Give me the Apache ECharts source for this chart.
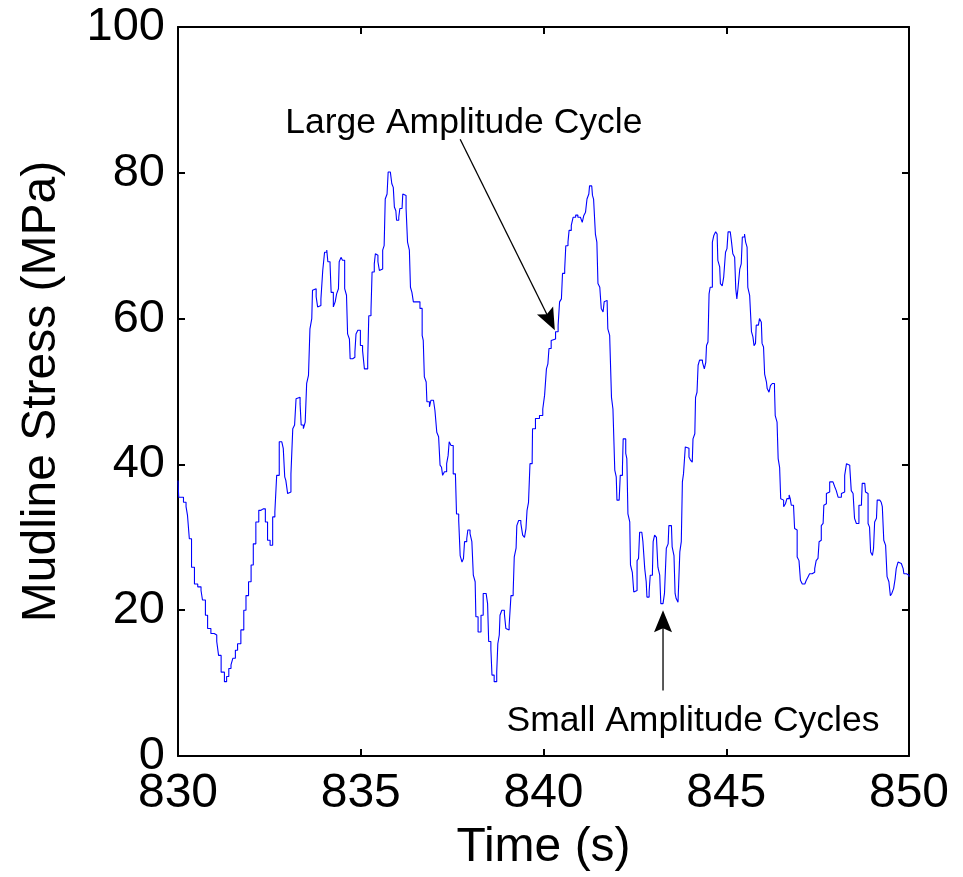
<!DOCTYPE html>
<html>
<head>
<meta charset="utf-8">
<title>Mudline stress</title>
<script src="https://cdn.jsdelivr.net/npm/echarts@6/dist/echarts.min.js"></script>
<style>
  html, body { margin: 0; padding: 0; background: #fff; }
  #chart { width: 963px; height: 877px; }
</style>
</head>
<body>
<div id="chart"></div>
<script>
// time (s) and mudline stress (MPa)
const timeS = [
  830.00, 830.02, 830.15, 830.22, 830.26, 830.31, 830.37, 830.45, 830.54, 830.63,
  830.67, 830.75, 830.81, 830.90, 830.99, 831.06, 831.11, 831.18, 831.27, 831.33,
  831.39, 831.45, 831.50, 831.57, 831.63, 831.72, 831.80, 831.86, 831.93, 832.00,
  832.06, 832.13, 832.21, 832.27, 832.33, 832.39, 832.45, 832.52, 832.59, 832.65,
  832.70, 832.77, 832.84, 832.88, 832.92, 832.95, 833.00, 833.05, 833.09, 833.14,
  833.19, 833.23, 833.28, 833.34, 833.37, 833.43, 833.48, 833.52, 833.57, 833.61,
  833.66, 833.68, 833.73, 833.78, 833.82, 833.87, 833.91, 833.96, 834.01, 834.07,
  834.10, 834.16, 834.19, 834.25, 834.30, 834.34, 834.39, 834.41, 834.46, 834.50,
  834.56, 834.61, 834.64, 834.69, 834.71, 834.78, 834.84, 834.87, 834.92, 834.96,
  834.99, 835.05, 835.10, 835.14, 835.19, 835.22, 835.28, 835.31, 835.37, 835.40,
  835.44, 835.47, 835.51, 835.55, 835.60, 835.64, 835.67, 835.72, 835.75, 835.81,
  835.85, 835.89, 835.92, 835.96, 835.98, 836.04, 836.07, 836.13, 836.15, 836.19,
  836.24, 836.28, 836.33, 836.36, 836.40, 836.44, 836.56, 836.62, 836.68, 836.71,
  836.74, 836.79, 836.81, 836.88, 836.92, 836.99, 837.03, 837.08, 837.13, 837.17,
  837.21, 837.24, 837.29, 837.35, 837.39, 837.42, 837.47, 837.53, 837.59, 837.62,
  837.68, 837.72, 837.77, 837.81, 837.84, 837.90, 837.93, 837.99, 838.04, 838.08,
  838.13, 838.15, 838.21, 838.26, 838.29, 838.35, 838.43, 838.47, 838.50, 838.56,
  838.59, 838.65, 838.72, 838.75, 838.79, 838.81, 838.86, 838.93, 838.97, 839.02,
  839.06, 839.11, 839.17, 839.20, 839.25, 839.27, 839.32, 839.38, 839.43, 839.48,
  839.52, 839.55, 839.59, 839.63, 839.69, 839.70, 839.78, 839.89, 839.98,
  840.03, 840.08, 840.12, 840.15, 840.21, 840.26, 840.33, 840.40, 840.44, 840.49,
  840.52, 840.58, 840.61, 840.67, 840.70, 840.76, 840.81, 840.88, 840.94, 841.01,
  841.06, 841.10, 841.15, 841.19, 841.24, 841.26, 841.32, 841.34, 841.37, 841.42,
  841.46, 841.49, 841.54, 841.58, 841.63, 841.66, 841.70, 841.74, 841.76, 841.81,
  841.86, 841.90, 841.95, 841.99, 842.01, 842.07, 842.10, 842.16, 842.18, 842.23,
  842.25, 842.28, 842.31, 842.36, 842.38, 842.43, 842.47, 842.52, 842.56, 842.60,
  842.63, 842.69, 842.72, 842.77, 842.81, 842.83, 842.89, 842.92, 842.98, 843.00,
  843.04, 843.09, 843.13, 843.18, 843.21, 843.27, 843.31, 843.36, 843.41, 843.43,
  843.50, 843.52, 843.57, 843.60, 843.63, 843.68, 843.73, 843.77, 843.80, 843.83,
  843.88, 843.93, 843.98, 844.02, 844.07, 844.09, 844.14, 844.16, 844.20, 844.23,
  844.27, 844.35, 844.40, 844.44, 844.46, 844.50, 844.53, 844.56, 844.62, 844.66,
  844.71, 844.75, 844.77, 844.82, 844.84, 844.89, 844.93, 844.96, 844.98, 845.02,
  845.05, 845.11, 845.14, 845.18, 845.23, 845.26, 845.29, 845.32, 845.37, 845.41,
  845.44, 845.50, 845.53, 845.57, 845.59, 845.64, 845.69, 845.73, 845.76, 845.80,
  845.82, 845.88, 845.91, 845.96, 845.98, 846.02, 846.05, 846.10, 846.12, 846.17,
  846.21, 846.26, 846.32, 846.34, 846.39, 846.42, 846.46, 846.49, 846.53, 846.57,
  846.62, 846.66, 846.72, 846.75, 846.78, 846.84, 846.87, 846.92, 846.94, 846.99,
  847.03, 847.08, 847.15, 847.19, 847.24, 847.28, 847.35, 847.42, 847.46, 847.51,
  847.54, 847.57, 847.60, 847.65, 847.67, 847.72, 847.74, 847.78, 847.83, 847.88,
  847.92, 847.97, 848.01, 848.06, 848.10, 848.15, 848.19, 848.24, 848.29, 848.33,
  848.38, 848.42, 848.47, 848.51, 848.56, 848.60, 848.63, 848.70, 848.72, 848.79,
  848.81, 848.85, 848.88, 848.92, 848.95, 849.00, 849.03, 849.06, 849.11, 849.13,
  849.20, 849.24, 849.27, 849.31, 849.36, 849.40, 849.45, 849.49, 849.53, 849.58,
  849.62, 849.65, 849.70, 849.74, 849.79, 849.84, 849.86, 849.93, 850.00
];
const stressMPa = [
  37.8, 35.5, 34.8, 34.2, 33.0, 29.8, 25.9, 23.6, 23.2, 22.7,
  21.4, 19.3, 17.5, 16.8, 16.6, 15.7, 13.8, 11.5, 10.2, 10.9,
  12.0, 12.5, 13.4, 14.5, 15.4, 17.3, 20.0, 22.0, 23.9, 26.2,
  29.1, 32.1, 33.7, 33.9, 33.9, 32.1, 29.6, 28.9, 32.8, 33.5,
  38.5, 43.1, 43.1, 42.2, 38.3, 37.8, 36.0, 36.2, 38.7, 44.9,
  45.4, 49.0, 49.2, 48.3, 45.4, 44.9, 45.8, 51.1, 52.2, 58.6,
  60.0, 63.9, 64.1, 63.0, 61.6, 61.8, 62.7, 66.6, 69.1, 69.4,
  67.8, 67.5, 63.6, 61.6, 62.3, 63.4, 64.1, 67.8, 68.4, 68.0,
  64.1, 63.2, 57.9, 57.2, 54.5, 54.7, 55.4, 57.9, 58.4, 58.4,
  56.3, 55.6, 53.1, 53.1, 54.3, 60.4, 61.1, 66.4, 67.5, 68.9,
  68.7, 67.8, 66.6, 66.8, 69.4, 70.0, 76.4, 77.1, 80.1, 80.1,
  78.5, 78.0, 75.3, 74.8, 73.5, 73.9, 75.1, 75.3, 77.1, 76.9,
  75.1, 70.5, 69.4, 64.3, 63.6, 62.3, 62.3, 61.4, 57.7, 57.0,
  52.0, 51.3, 48.6, 47.9, 48.8, 48.6, 47.4, 44.4, 43.8, 39.9,
  39.6, 38.5, 39.0, 40.1, 41.2, 43.1, 42.6, 38.7, 38.5, 33.2,
  32.3, 27.5, 26.6, 27.1, 29.4, 29.8, 31.0, 30.5, 29.4, 24.8,
  23.9, 19.1, 17.0, 17.0, 19.3, 22.3, 22.3, 20.9, 15.7, 14.7,
  11.1, 10.2, 11.5, 15.4, 16.6, 19.3, 20.0, 19.5, 17.5, 17.3,
  17.9, 22.0, 22.5, 27.3, 28.5, 31.6, 32.3, 31.9, 30.3, 30.0,
  31.2, 33.7, 34.8, 40.1, 40.6, 44.9, 46.3, 46.7, 47.6,
  49.5, 53.1, 53.8, 55.9, 57.0, 57.2, 58.2, 59.1, 62.3, 62.7,
  66.2, 66.8, 70.0, 70.5, 72.1, 72.8, 73.9, 74.2, 73.9, 73.7,
  73.2, 74.1, 74.6, 76.4, 77.1, 78.2, 78.0, 76.9, 76.4, 71.6,
  70.5, 64.8, 64.3, 61.4, 60.9, 62.3, 62.5, 62.3, 58.6, 57.7,
  49.2, 47.6, 39.2, 38.3, 35.1, 35.3, 38.5, 39.6, 43.5, 43.5,
  41.5, 40.8, 33.2, 32.1, 26.2, 25.2, 22.5, 22.7, 26.8, 27.1,
  30.7, 30.7, 29.4, 25.7, 23.9, 21.8, 22.5, 24.8, 25.2, 29.4,
  30.3, 30.0, 25.9, 24.8, 20.9, 20.7, 22.3, 28.5, 29.1, 31.6,
  31.4, 28.7, 27.5, 22.3, 21.6, 21.1, 28.0, 29.4, 37.6, 38.7,
  42.4, 42.2, 41.0, 40.6, 40.3, 43.5, 44.2, 49.2, 49.9, 53.6,
  54.3, 54.0, 53.1, 54.0, 56.3, 56.8, 63.4, 64.3, 70.5, 71.4,
  71.9, 71.6, 68.0, 67.1, 64.8, 64.5, 65.7, 65.7, 69.1, 69.6,
  71.9, 71.9, 70.7, 68.9, 68.4, 64.1, 62.7, 64.1, 66.8, 67.5,
  71.2, 71.6, 70.5, 69.8, 64.3, 63.2, 58.2, 57.5, 56.3, 56.6,
  59.1, 59.3, 60.0, 59.5, 56.6, 56.1, 52.4, 51.3, 50.4, 49.9,
  50.8, 51.1, 50.4, 46.7, 45.8, 40.8, 39.6, 35.3, 35.1, 34.2,
  34.6, 35.3, 35.8, 35.3, 34.4, 34.2, 31.2, 31.0, 27.3, 26.8,
  24.1, 23.6, 23.6, 24.1, 24.6, 25.0, 25.2, 25.7, 26.8, 27.1,
  29.4, 29.6, 31.6, 31.9, 34.4, 34.6, 36.0, 36.2, 37.6, 37.6,
  37.4, 36.9, 36.4, 35.5, 35.5, 36.0, 36.2, 38.5, 40.1, 39.9,
  39.6, 36.4, 36.0, 32.6, 31.9, 31.9, 34.4, 34.8, 37.4, 37.6,
  36.2, 36.0, 31.9, 31.4, 28.0, 27.5, 28.5, 32.1, 32.6, 35.1,
  35.3, 34.8, 34.2, 29.6, 28.9, 24.6, 23.9, 22.0, 22.3, 23.0,
  24.3, 25.7, 26.6, 26.4, 26.2, 25.7, 25.0, 24.8, 24.6
];

const xTicks = [830, 850, 5];
const yTicks = [0, 100, 20];

// annotations: text anchor (time, stress) and arrow tail -> tip
const noteText = ['Large Amplitude Cycle', 'Small Amplitude Cycles'];
const noteAt = [[837.82, 86.8], [844.09, 4.8]];
const arrowFrom = [[837.72, 84.6], [843.27, 9.0]];
const arrowTo = [[840.31, 58.4], [843.27, 20.0]];

const FONT = '"Liberation Sans", Arial, Helvetica, sans-serif';
const chart = echarts.init(document.getElementById('chart'));

function axisBase(min, max, interval, pos) {
  return {
    type: 'value', min: min, max: max, interval: interval, position: pos,
    axisLine: { show: true, onZero: false, lineStyle: { color: '#000', width: 2 } },
    axisTick: { show: true, inside: true, length: 7, lineStyle: { color: '#000', width: 2 } },
    splitLine: { show: false },
    axisLabel: { show: false }
  };
}

const xBottom = axisBase(xTicks[0], xTicks[1], xTicks[2], 'bottom');
xBottom.axisLabel = { show: true, color: '#000', fontSize: 48, fontFamily: FONT, margin: 14 };
xBottom.name = 'Time (s)';
xBottom.nameLocation = 'middle';
xBottom.nameGap = 68;
xBottom.nameTextStyle = { color: '#000', fontSize: 48, fontFamily: FONT };

const yLeft = axisBase(yTicks[0], yTicks[1], yTicks[2], 'left');
yLeft.axisLabel = { show: true, color: '#000', fontSize: 47, fontFamily: FONT, margin: 13 };
yLeft.name = 'Mudline Stress (MPa)';
yLeft.nameLocation = 'middle';
yLeft.nameRotate = 90;
yLeft.nameGap = 112;
yLeft.nameTextStyle = { color: '#000', fontSize: 48, fontFamily: FONT };

function renderNote(params, api) {
  const i = params.dataIndex;
  const tail = api.coord(arrowFrom[i]);
  const tip = api.coord(arrowTo[i]);
  const txt = api.coord(noteAt[i]);
  const dx = tip[0] - tail[0], dy = tip[1] - tail[1];
  const len = Math.sqrt(dx * dx + dy * dy);
  const ux = dx / len, uy = dy / len;
  const px = -uy, py = ux;
  const L = 22, W = 9, back = 18;
  const head = [
    tip,
    [tip[0] - ux * L + px * W, tip[1] - uy * L + py * W],
    [tip[0] - ux * back, tip[1] - uy * back],
    [tip[0] - ux * L - px * W, tip[1] - uy * L - py * W]
  ];
  return {
    type: 'group',
    children: [
      { type: 'line', shape: { x1: tail[0], y1: tail[1], x2: tip[0] - ux * 4, y2: tip[1] - uy * 4 },
        style: { stroke: '#000', lineWidth: 1.3 } },
      { type: 'polygon', shape: { points: head }, style: { fill: '#000' } },
      { type: 'text', x: txt[0], y: txt[1],
        style: { text: noteText[i], fill: '#000', font: '35.5px ' + FONT, align: 'center', verticalAlign: 'middle' } }
    ]
  };
}

const option = {
  animation: false,
  backgroundColor: '#fff',
  grid: { left: 178, right: 54, top: 27, bottom: 121, containLabel: false },
  xAxis: [xBottom, axisBase(xTicks[0], xTicks[1], xTicks[2], 'top')],
  yAxis: [yLeft, axisBase(yTicks[0], yTicks[1], yTicks[2], 'right')],
  series: [
    {
      name: 'Mudline stress',
      type: 'line',
      step: 'end',
      showSymbol: false,
      lineStyle: { color: '#0000ff', width: 1.1 },
      data: timeS.map((t, i) => [t, stressMPa[i]])
    },
    {
      name: 'notes',
      type: 'custom',
      renderItem: renderNote,
      data: noteText.map((s, i) => [noteAt[i][0], noteAt[i][1]]),
      z: 5
    }
  ]
};

chart.setOption(option);
</script>
</body>
</html>
